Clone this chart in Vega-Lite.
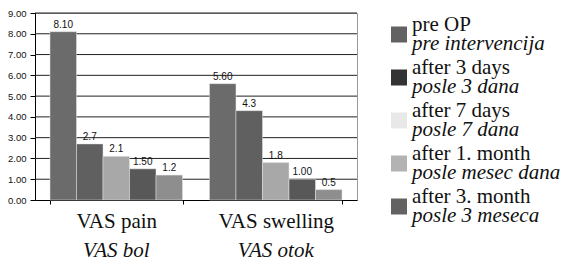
{
  "$schema": "https://vega.github.io/schema/vega-lite/v6.json",
  "padding": {"left": 7, "top": 7, "right": 2, "bottom": 2},
  "background": "white",
  "config": {"concat": {"spacing": 33}},
  "datasets": {
    "bars": [
      {"cat": "VAS pain", "cat2": "VAS bol", "series": "pre OP", "value": 8.1, "label": "8.10"},
      {"cat": "VAS pain", "cat2": "VAS bol", "series": "after 3 days", "value": 2.7, "label": "2.7"},
      {"cat": "VAS pain", "cat2": "VAS bol", "series": "after 7 days", "value": 2.1, "label": "2.1"},
      {"cat": "VAS pain", "cat2": "VAS bol", "series": "after 1. month", "value": 1.5, "label": "1.50"},
      {"cat": "VAS pain", "cat2": "VAS bol", "series": "after 3. month", "value": 1.2, "label": "1.2"},
      {"cat": "VAS swelling", "cat2": "VAS otok", "series": "pre OP", "value": 5.6, "label": "5.60"},
      {"cat": "VAS swelling", "cat2": "VAS otok", "series": "after 3 days", "value": 4.3, "label": "4.3"},
      {"cat": "VAS swelling", "cat2": "VAS otok", "series": "after 7 days", "value": 1.8, "label": "1.8"},
      {"cat": "VAS swelling", "cat2": "VAS otok", "series": "after 1. month", "value": 1.0, "label": "1.00"},
      {"cat": "VAS swelling", "cat2": "VAS otok", "series": "after 3. month", "value": 0.5, "label": "0.5"}
    ],
    "cats": [
      {"cat": "VAS pain", "cat2": "VAS bol"},
      {"cat": "VAS swelling", "cat2": "VAS otok"}
    ],
    "grid": [
      {"v": 1}, {"v": 2}, {"v": 3}, {"v": 4}, {"v": 5}, {"v": 6}, {"v": 7}, {"v": 8}, {"v": 9}
    ],
    "legend": [
      {"series": "pre OP", "line1": "pre OP", "line2": "pre intervencija"},
      {"series": "after 3 days", "line1": "after 3 days", "line2": "posle 3 dana"},
      {"series": "after 7 days", "line1": "after 7 days", "line2": "posle 7 dana"},
      {"series": "after 1. month", "line1": "after 1. month", "line2": "posle mesec dana"},
      {"series": "after 3. month", "line1": "after 3. month", "line2": "posle 3 meseca"}
    ]
  },
  "hconcat": [
    {
      "width": 322,
      "height": 187,
      "view": {"stroke": "#999999"},
      "layer": [
        {
          "data": {"name": "grid"},
          "mark": {"type": "rule", "color": "#222222", "strokeWidth": 1},
          "encoding": {
            "y": {
              "field": "v", "type": "quantitative", "scale": {"domain": [0, 9], "nice": false},
              "axis": {
                "title": null, "values": [0, 1, 2, 3, 4, 5, 6, 7, 8, 9], "tickCount": 10, "format": ".2f", "labelOverlap": false,
                "labelExpr": "format(datum.value, '.2f')",
                "labelFont": "Liberation Sans", "labelFontSize": 9.5, "labelColor": "#111111", "grid": false,
                "tickSize": 5, "labelPadding": 4, "domainColor": "#000000", "tickColor": "#000000"
              }
            }
          }
        },
        {
          "data": {"name": "bars"},
          "mark": {"type": "bar", "stroke": "#e6e6e6", "strokeWidth": 0.5},
          "encoding": {
            "x": {
              "field": "cat", "type": "nominal", "sort": ["VAS pain", "VAS swelling"],
              "scale": {"paddingInner": 0.169, "paddingOuter": 0.094},
              "axis": {
                "title": null, "labelAngle": 0, "labelFont": "Liberation Serif", "labelFontSize": 21,
                "labelColor": "#111111", "domainColor": "#000000", "tickColor": "#000000",
                "tickBand": "extent", "tickSize": 4, "labelPadding": 6
              }
            },
            "xOffset": {
              "field": "series", "type": "nominal",
              "sort": ["pre OP", "after 3 days", "after 7 days", "after 1. month", "after 3. month"],
              "scale": {"paddingInner": 0, "paddingOuter": 0}
            },
            "y": {"field": "value", "type": "quantitative"},
            "color": {
              "field": "series", "type": "nominal",
              "sort": ["pre OP", "after 3 days", "after 7 days", "after 1. month", "after 3. month"],
              "scale": {"range": ["#6b6b6b", "#606060", "#a8a8a8", "#585858", "#8e8e8e"]},
              "legend": null
            }
          }
        },
        {
          "data": {"name": "bars"},
          "mark": {"type": "text", "baseline": "bottom", "dy": -2, "font": "Liberation Sans", "fontSize": 10, "color": "#111111"},
          "encoding": {
            "x": {"field": "cat", "type": "nominal", "sort": ["VAS pain", "VAS swelling"]},
            "xOffset": {
              "field": "series", "type": "nominal",
              "sort": ["pre OP", "after 3 days", "after 7 days", "after 1. month", "after 3. month"]
            },
            "y": {"field": "value", "type": "quantitative"},
            "text": {"field": "label"}
          }
        },
        {
          "data": {"name": "cats"},
          "mark": {"type": "text", "baseline": "alphabetic", "dy": 57, "font": "Liberation Serif", "fontSize": 21, "fontStyle": "italic", "color": "#111111"},
          "encoding": {
            "x": {"field": "cat", "type": "nominal", "sort": ["VAS pain", "VAS swelling"]},
            "y": {"datum": 0},
            "text": {"field": "cat2"}
          }
        }
      ]
    },
    {
      "width": 16,
      "height": 215,
      "view": {"stroke": null},
      "data": {"name": "legend"},
      "encoding": {
        "y": {
          "field": "series", "type": "nominal",
          "sort": ["pre OP", "after 3 days", "after 7 days", "after 1. month", "after 3. month"],
          "axis": null, "scale": {"padding": 0.5}
        }
      },
      "layer": [
        {
          "mark": {"type": "point", "shape": "square", "filled": true, "opacity": 1, "size": 256},
          "encoding": {
            "color": {
              "field": "series", "type": "nominal",
              "sort": ["pre OP", "after 3 days", "after 7 days", "after 1. month", "after 3. month"],
              "scale": {"range": ["#626262", "#333333", "#e8e8e8", "#b3b3b3", "#626262"]},
              "legend": null
            }
          }
        },
        {
          "mark": {"type": "text", "align": "left", "baseline": "alphabetic", "dx": 13, "dy": -4, "font": "Liberation Serif", "fontSize": 21, "color": "#111111"},
          "encoding": {"text": {"field": "line1"}}
        },
        {
          "mark": {"type": "text", "align": "left", "baseline": "alphabetic", "dx": 13, "dy": 15, "font": "Liberation Serif", "fontSize": 21, "fontStyle": "italic", "color": "#111111"},
          "encoding": {"text": {"field": "line2"}}
        }
      ]
    }
  ],
  "resolve": {"scale": {"color": "independent"}}
}
